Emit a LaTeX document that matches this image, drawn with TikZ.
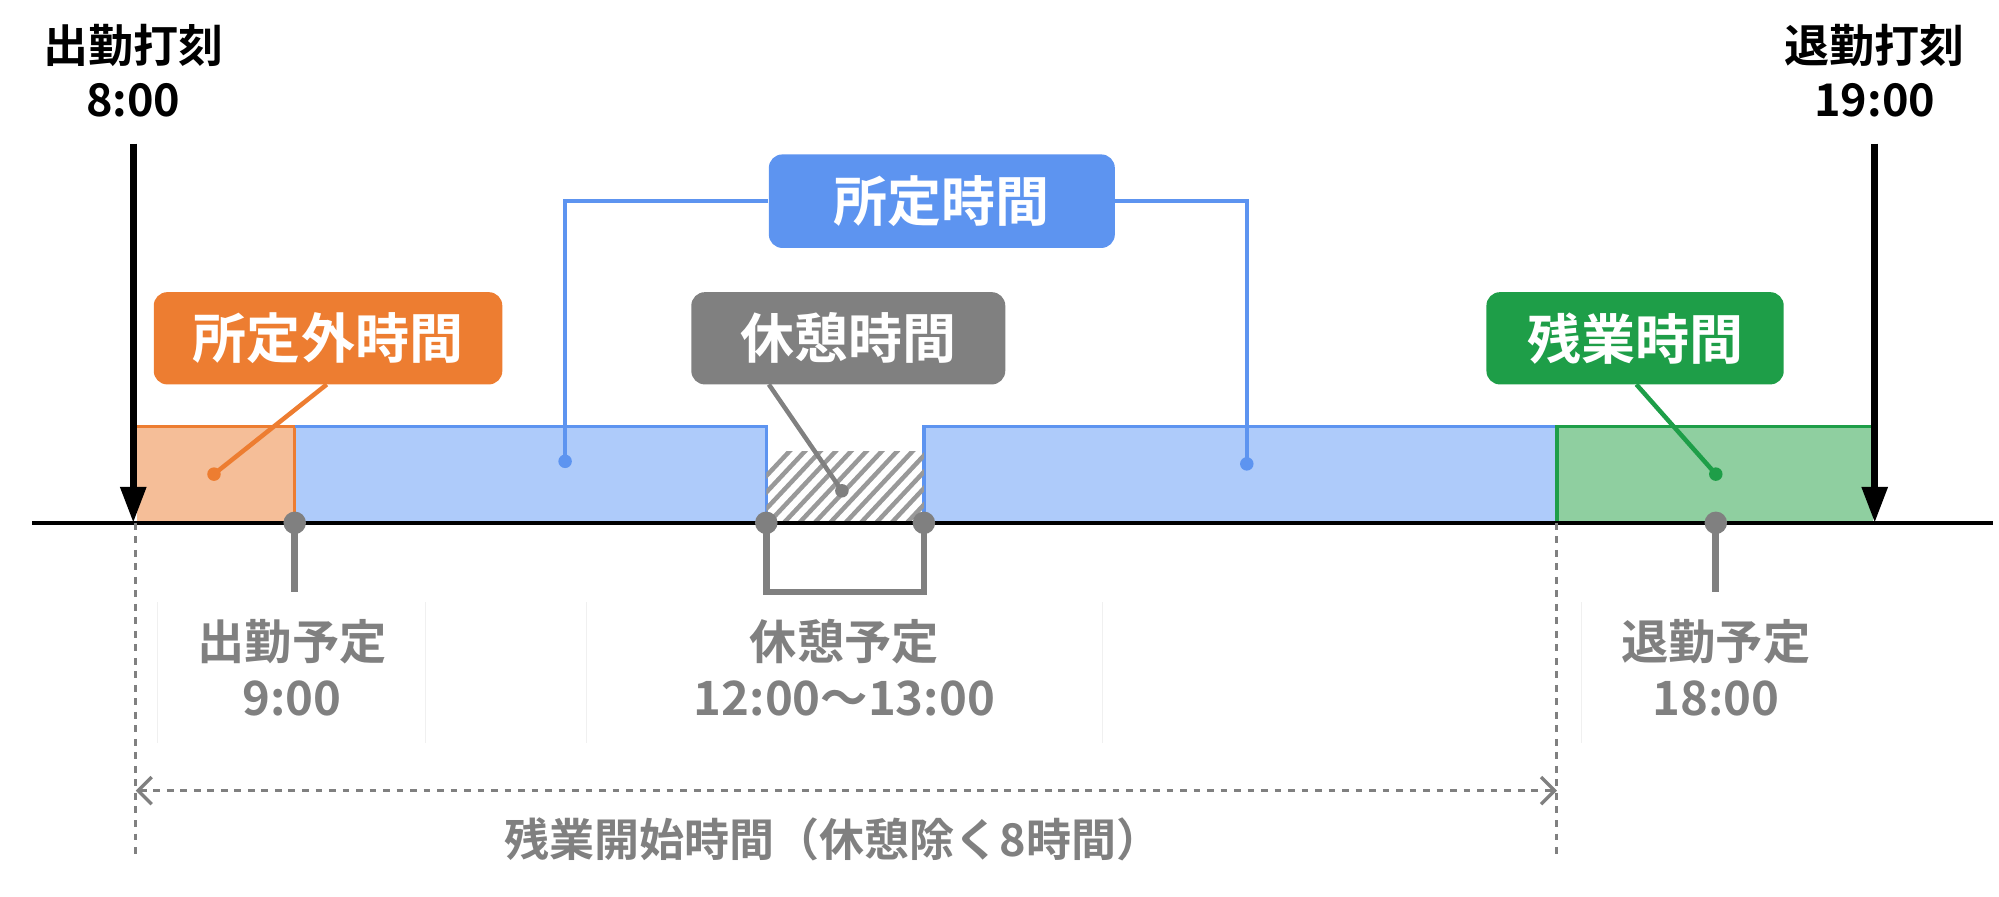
\documentclass[tikz,border=0pt]{standalone}
\usepackage{fontspec}
\setmainfont{Noto Sans CJK JP}[BoldFont={Noto Sans CJK JP Bold}]
\usetikzlibrary{arrows.meta}
\definecolor{org}{HTML}{ED7D31}\definecolor{orgl}{HTML}{F5BE98}
\definecolor{blu}{HTML}{5D94F0}\definecolor{blul}{HTML}{AECBFA}
\definecolor{grn}{HTML}{1E9E48}\definecolor{grnl}{HTML}{8FCFA0}
\definecolor{gry}{HTML}{808080}
\begin{document}
\begin{tikzpicture}[x=0.02cm,y=-0.02cm,
 lbl/.style={rounded corners=6pt,text=white,font=\fontsize{24}{28}\selectfont\bfseries,inner sep=0pt},
 toptxt/.style={font=\fontsize{20}{24}\selectfont\bfseries,align=center},
 gtxt/.style={text=gry,font=\fontsize{21}{25}\selectfont\bfseries},
 dotc/.style={circle,inner sep=0pt,minimum size=10pt},
 sdot/.style={circle,inner sep=0pt,minimum size=6pt}]
\useasboundingbox (0,0) rectangle (1560,700);
% faint lines
\foreach \x in {123,332,458,860,1234}\draw[gray!12] (\x,470)--(\x,580);
% rectangles
\fill[orgl] (107,333) rectangle (230,408);
\fill[blul] (230,333) rectangle (598,408);
\fill[blul] (721,333) rectangle (1215,408);
\fill[grnl] (1215,333) rectangle (1462,408);
\draw[org,line width=1.5pt] (107,333)--(230,333)--(230,408);
\draw[blu,line width=1.5pt] (230,333)--(598,333)--(598,408);
\draw[blu,line width=1.5pt] (721,408)--(721,333)--(1215,333);
\draw[grn,line width=1.5pt] (1215,408)--(1215,333)--(1462,333);
\begin{scope}
\clip (598,352) rectangle (721,408);
\foreach \i in {0,12,...,200}\draw[gray!80,line width=2pt] (560+\i,412)--(620+\i,348);
\end{scope}
% axis
\coordinate (axL) at (25,408);\coordinate (axR) at (1555,408);
\draw[line width=1.5pt] (axL)--(axR);
% top arrows
\node[toptxt] (in) at (104,55) {出勤打刻\\8:00};
\node[toptxt] (out) at (1463,55) {退勤打刻\\19:00};
\coordinate (ia) at (104,112);\coordinate (ib) at (104,408);
\coordinate (oa) at (1463,112);\coordinate (ob) at (1463,408);
\draw[line width=3pt,-{Triangle[length=16pt,width=11pt]}] (ia)--(ib);
\draw[line width=3pt,-{Triangle[length=16pt,width=11pt]}] (oa)--(ob);
% labels
\node[lbl,fill=org,minimum width=272*0.02cm,minimum height=72*0.02cm] (lo) at (256,264) {所定外時間};
\node[lbl,fill=blu,minimum width=270*0.02cm,minimum height=73*0.02cm] (lb) at (735,157) {所定時間};
\node[lbl,fill=gry,minimum width=245*0.02cm,minimum height=72*0.02cm] (lg) at (662,264) {休憩時間};
\node[lbl,fill=grn,minimum width=232*0.02cm,minimum height=72*0.02cm] (lgr) at (1276,264) {残業時間};
\node[sdot,fill=org] (d1) at (167,370) {};
\node[sdot,fill=blu] (d2) at (441,360) {};
\node[sdot,fill=blu] (d3) at (973,362) {};
\node[sdot,fill=gry] (d4) at (657,383) {};
\node[sdot,fill=grn] (d5) at (1339,370) {};
\draw[org,line width=2pt] (255,300)--(d1.center);
\draw[blu,line width=2pt] (lb.west)-|(d2.center);
\draw[blu,line width=2pt] (lb.east)-|(d3.center);
\draw[gry,line width=2pt] (600,300)--(d4.center);
\draw[grn,line width=2pt] (1277,300)--(d5.center);
% schedule points
\node[dotc,fill=gry] (p1) at (230,408) {};
\node[dotc,fill=gry] (p2) at (598,408) {};
\node[dotc,fill=gry] (p3) at (721,408) {};
\node[dotc,fill=gry] (p4) at (1339,408) {};
\draw[gry,line width=3pt] (p1.center)--(230,462);
\draw[gry,line width=3pt] (p4.center)--(1339,462);
\draw[gry,line width=3pt] (p2.center)--(598,462)--(721,462)--(p3.center);
\node[gtxt,align=center] (t1) at (228,521) {出勤予定\\9:00};
\node[gtxt,align=center] (t2) at (659,521) {休憩予定\\12:00～13:00};
\node[gtxt,align=center] (t3) at (1339,521) {退勤予定\\18:00};
% dashed
\draw[gry,dashed,line width=1.3pt] (106,408)--(106,670);
\draw[gry,dashed,line width=1.3pt] (1215,408)--(1215,670);
\coordinate (al) at (106,617);\coordinate (ar) at (1215,617);
\draw[gry,dashed,line width=1.5pt,{Straight Barb[length=6pt,width=12pt]}-{Straight Barb[length=6pt,width=12pt]}] (al)--(ar);
\node[gtxt,font=\fontsize{20}{24}\selectfont\bfseries] (bt) at (650,655) {残業開始時間（休憩除く8時間）};
\end{tikzpicture}
\end{document}
